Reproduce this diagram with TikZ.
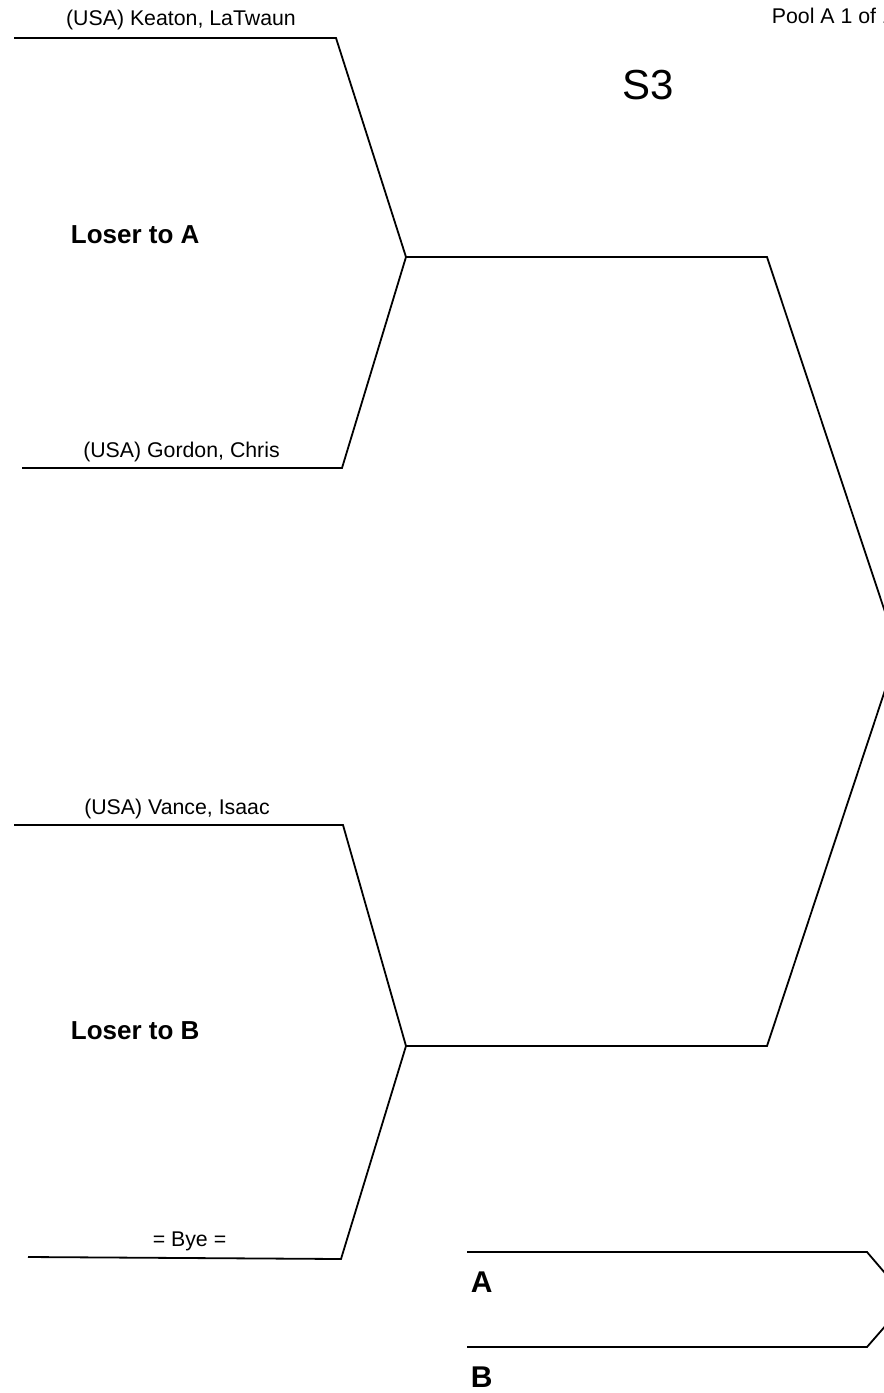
\documentclass[tikz,border=0pt]{standalone}
\usepackage{fontspec}
\setmainfont{Liberation Sans}
\begin{document}
\begin{tikzpicture}[x=1pt,y=-1pt,line width=1.8pt,
  namelbl/.style={font=\fontsize{21.3}{24}\selectfont, anchor=base, inner sep=0pt},
  boldlbl/.style={font=\fontsize{26}{30}\selectfont\bfseries, anchor=base west, inner sep=0pt},
  slotlbl/.style={font=\fontsize{30}{34}\selectfont\bfseries, anchor=base west, inner sep=0pt},
  bracket/.style={line width=1.8pt, line join=miter}]
\useasboundingbox (0,0) rectangle (884,1393);
\clip (0,0) rectangle (884,1393);
% coordinates
\coordinate (a1) at (14,38);
\coordinate (a2) at (336,38);
\coordinate (m1) at (406,257);
\coordinate (b1) at (22,468);
\coordinate (b2) at (342,468);
\coordinate (m1e) at (767,257);
\coordinate (f) at (898,651);
\coordinate (c1) at (14,825);
\coordinate (c2) at (343,825);
\coordinate (m2) at (406,1046);
\coordinate (d1) at (28,1257);
\coordinate (d2) at (341,1259);
\coordinate (m2e) at (767,1046);
\coordinate (e1) at (467,1252);
\coordinate (e2) at (867,1252);
\coordinate (g) at (908,1300);
\coordinate (h2) at (867,1347);
\coordinate (h1) at (467,1347);
% bracket lines
\draw[bracket] (a1) -- (a2) -- (m1) -- (m1e) -- (f) -- (m2e) -- (m2) -- (c2) -- (c1);
\draw[bracket] (b1) -- (b2) -- (m1);
\draw[bracket] (d1) -- (d2) -- (m2);
\draw[bracket] (e1) -- (e2) -- (g) -- (h2) -- (h1);
% texts
\node[namelbl] (tk) at (181,25) {(USA) Keaton, LaTwaun};
\node[namelbl] (tg) at (181.5,457) {(USA) Gordon, Chris};
\node[namelbl] (tv) at (177,814) {(USA) Vance, Isaac};
\node[namelbl] (tb) at (189.5,1246) {= Bye =};
\node[namelbl, anchor=base west] (tp) at (771,23) {Pool A 1 of 1};
\node[font=\fontsize{42}{46}\selectfont, anchor=base, inner sep=0pt] (ts) at (648,99) {S3};
\node[boldlbl] (la) at (70,243) {Loser to A};
\node[boldlbl] (lb) at (70,1039) {Loser to B};
\node[slotlbl] (sa) at (470,1292) {A};
\node[slotlbl] (sb) at (470,1387) {B};
\end{tikzpicture}
\end{document}
